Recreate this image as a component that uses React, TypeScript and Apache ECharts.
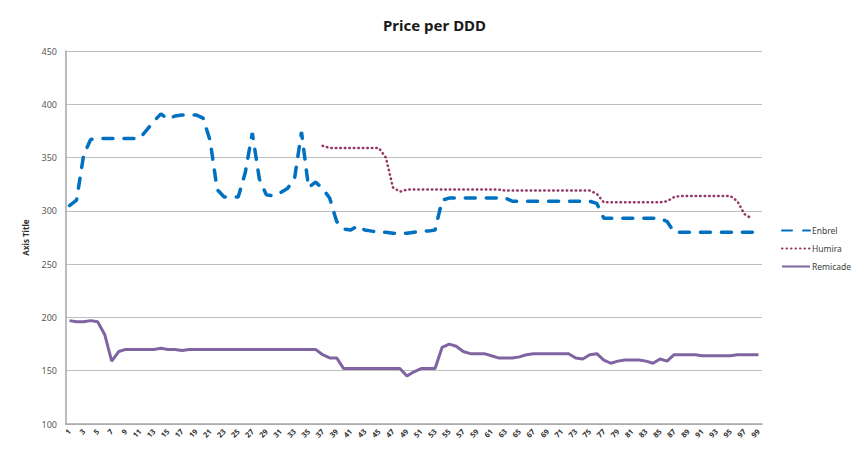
import { useEffect, useRef } from "react";
import * as echarts from "echarts";

const categories = Array.from({ length: 99 }, (_, i) => String(i + 1));

const enbrel = [
  305, 310, 352, 367, 368, 368, 368, 368, 368, 368,
  368, 376, 384, 391, 386, 389, 390, 390, 390, 387,
  366, 320, 313, 313, 313, 336, 373, 330, 315, 314,
  317, 321, 330, 374, 322, 327, 321, 312, 290, 283,
  282, 286, 282, 281, 280, 280, 279, 279, 279, 280,
  281, 281, 282, 310, 312, 312, 312, 312, 312, 312,
  312, 312, 312, 309, 309, 309, 309, 309, 309, 309,
  309, 309, 309, 309, 309, 307, 293, 293, 293, 293,
  293, 293, 293, 293, 293, 290, 280, 280, 280, 280,
  280, 280, 280, 280, 280, 280, 280, 280, 280,
];

const humira = [
  null, null, null, null, null, null, null, null, null, null,
  null, null, null, null, null, null, null, null, null, null,
  null, null, null, null, null, null, null, null, null, null,
  null, null, null, null, null, null, 361, 359, 359, 359,
  359, 359, 359, 359, 359, 350, 322, 318, 320, 320,
  320, 320, 320, 320, 320, 320, 320, 320, 320, 320,
  320, 320, 319, 319, 319, 319, 319, 319, 319, 319,
  319, 319, 319, 319, 319, 316, 308, 308, 308, 308,
  308, 308, 308, 308, 308, 309, 313, 314, 314, 314,
  314, 314, 314, 314, 314, 309, 297, 293, null,
];

const remicade = [
  197, 196, 196, 197, 196, 184, 159, 168, 170, 170,
  170, 170, 170, 171, 170, 170, 169, 170, 170, 170,
  170, 170, 170, 170, 170, 170, 170, 170, 170, 170,
  170, 170, 170, 170, 170, 170, 165, 162, 162, 152,
  152, 152, 152, 152, 152, 152, 152, 152, 145, 149,
  152, 152, 152, 172, 175, 173, 168, 166, 166, 166,
  164, 162, 162, 162, 163, 165, 166, 166, 166, 166,
  166, 166, 162, 161, 165, 166, 160, 157, 159, 160,
  160, 160, 159, 157, 161, 159, 165, 165, 165, 165,
  164, 164, 164, 164, 164, 165, 165, 165, 165,
];

const font = "'Noto Sans', 'Liberation Sans', sans-serif";

export default function App() {
  const ref = useRef<HTMLDivElement | null>(null);

  useEffect(() => {
    if (!ref.current) return;
    const chart = echarts.init(ref.current, undefined, { renderer: "svg" });

    chart.setOption({
      animation: false,
      backgroundColor: "#fff",
      textStyle: { fontFamily: font },
      title: {
        text: "Price per DDD",
        left: 383,
        top: 17,
        padding: 0,
        textStyle: { fontSize: 15, fontWeight: "bold", color: "#1a1a1a", fontFamily: font },
      },
      grid: { left: 66, right: 94, top: 51, bottom: 34, containLabel: false },
      legend: {
        orient: "vertical",
        left: 781,
        top: 226,
        itemWidth: 28,
        itemHeight: 8,
        itemGap: 9,
        padding: 0,
        itemStyle: { opacity: 0 },
        textStyle: { fontSize: 8.5, color: "#404040", fontFamily: font, padding: [0, 0, 0, -3] },
        data: ["Enbrel", "Humira", "Remicade"],
      },
      xAxis: {
        type: "category",
        data: categories,
        boundaryGap: true,
        axisLine: { lineStyle: { color: "#a6a6a6", width: 1.5 } },
        axisTick: { show: false },
        axisLabel: {
          interval: 1,
          rotate: 45,
          fontSize: 7.5,
          fontWeight: "bold",
          color: "#333",
          margin: 6,
        },
      },
      yAxis: {
        type: "value",
        min: 100,
        max: 450,
        interval: 50,
        name: "Axis Title",
        nameLocation: "middle",
        nameRotate: 90,
        nameGap: 37,
        nameTextStyle: { fontSize: 8, fontWeight: "bold", color: "#333" },
        axisLine: { show: true, lineStyle: { color: "#a6a6a6", width: 1.5 } },
        axisTick: { show: false },
        axisLabel: { fontSize: 9, color: "#595959", margin: 9 },
        splitLine: { lineStyle: { color: "#bfbfbf", width: 1.2 } },
      },
      series: [
        {
          name: "Enbrel",
          type: "line",
          data: enbrel,
          symbol: "none",
          itemStyle: { color: "#0070c0" },
          lineStyle: { color: "#0070c0", width: 3.5, type: [10, 11], cap: "round" },
        },
        {
          name: "Humira",
          type: "line",
          data: humira,
          symbol: "none",
          itemStyle: { color: "#953764" },
          lineStyle: { color: "#953764", width: 2.5, type: [0.5, 4], cap: "round" },
        },
        {
          name: "Remicade",
          type: "line",
          data: remicade,
          symbol: "none",
          itemStyle: { color: "#8064a2" },
          lineStyle: { color: "#8064a2", width: 3 },
        },
      ],
    });

    return () => chart.dispose();
  }, []);

  return (
    <div
      ref={ref}
      style={{ position: "fixed", left: 0, top: 0, width: 856, height: 458 }}
    />
  );
}
